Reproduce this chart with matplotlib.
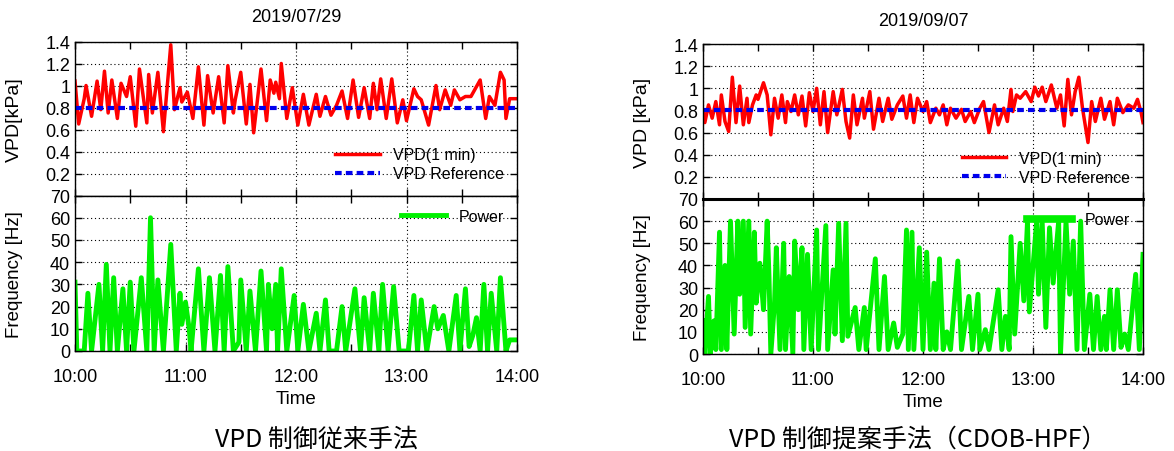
"""VPD control comparison: conventional vs proposed (CDOB-HPF)"""
import matplotlib
matplotlib.use('Agg')
import matplotlib.pyplot as plt
from matplotlib.ticker import MultipleLocator

plt.rcParams['font.family'] = ['Liberation Sans', 'DejaVu Sans']
plt.rcParams['font.size'] = 11

# ---- data (minutes after 10:00) ----
hour_ticks = [0, 60, 120, 180, 240]
hour_labels = ['10:00', '11:00', '12:00', '13:00', '14:00']
vpd_ticks = [0.2, 0.4, 0.6, 0.8, 1.0, 1.2, 1.4]
vpd_labels = ['0.2', '0.4', '0.6', '0.8', '1', '1.2', '1.4']
freq_ticks = [0, 10, 20, 30, 40, 50, 60, 70]
vpd_ref = 0.8

# 2019/07/29 conventional
conv_vpd_t = [0, 2, 5, 6, 9, 12, 14, 16, 18, 20, 23, 25, 28, 30, 33, 35, 39, 40, 42, 45,
              48, 52, 54, 57, 58, 61, 64, 67, 70, 72, 75, 78, 81, 83, 86, 87, 90, 93, 95, 97,
              101, 104, 106, 108, 109, 111, 112, 115, 118, 121, 124, 127, 131, 133, 136, 139,
              142, 145, 148, 151, 154, 157, 160, 162, 164, 166, 169, 172, 175, 178, 180, 184,
              186, 188, 192, 196, 198, 201, 204, 206, 209, 212, 215, 217, 220, 223, 225, 228,
              231, 233, 234, 236, 240]
conv_vpd = [1.04, 0.65, 0.88, 1.00, 0.72, 1.04, 0.78, 1.13, 0.75, 1.05, 0.70, 1.02, 0.90, 1.08,
            0.63, 1.15, 0.66, 1.10, 0.75, 1.12, 0.58, 1.37, 0.78, 0.98, 0.85, 0.94, 0.70, 1.17,
            0.64, 1.09, 0.75, 1.08, 0.66, 1.18, 0.75, 0.87, 1.12, 0.65, 1.01, 0.57, 1.15, 0.68,
            1.05, 0.93, 1.03, 0.88, 1.20, 0.70, 0.98, 0.64, 0.92, 0.64, 0.92, 0.72, 0.90, 0.73,
            0.82, 0.95, 0.70, 1.05, 0.71, 0.98, 0.70, 1.02, 0.78, 1.06, 0.70, 1.06, 0.66, 0.87,
            0.68, 0.97, 0.90, 0.87, 0.64, 1.00, 0.78, 0.96, 0.82, 0.96, 0.87, 0.90, 0.90, 0.96,
            1.05, 0.70, 0.90, 0.82, 1.12, 1.05, 0.70, 0.88, 0.88]

conv_pow_t = [0, 1, 5, 7, 9, 13, 15, 17, 19, 21, 23, 26, 28, 30, 32, 36, 39, 41, 43, 45,
              48, 52, 55, 57, 58, 60, 62, 63, 67, 70, 73, 76, 79, 81, 83, 86, 89, 90, 93, 95,
              98, 101, 104, 105, 107, 109, 110, 112, 115, 119, 121, 124, 127, 131, 133, 136, 138,
              142, 145, 147, 152, 155, 157, 160, 162, 165, 167, 170, 173, 176, 181, 184, 186, 188,
              191, 195, 197, 200, 203, 207, 209, 212, 214, 216, 218, 220, 222, 224, 226, 229, 231,
              234, 236, 240]
conv_pow = [31, 0, 0, 26, 0, 30, 0, 39, 0, 33, 0, 28, 0, 31, 0, 33, 0, 60, 0, 32,
            0, 48, 0, 26, 12, 22, 10, 0, 37, 0, 33, 0, 34, 0, 38, 0, 4, 32, 0, 27,
            0, 36, 0, 30, 10, 30, 0, 37, 0, 25, 0, 21, 0, 17, 0, 23, 0,
            0, 20, 0, 28, 0, 24, 0, 26, 0, 30, 0, 29, 0, 0, 25, 0, 23,
            0, 20, 10, 16, 0, 25, 0, 28, 2, 7, 15, 0, 30, 0, 26, 0, 33,
            0, 5, 5]

# 2019/09/07 proposed (CDOB-HPF)
prop_vpd_t = [0, 1, 3, 5, 7, 9, 10, 12, 14, 16, 18, 20, 22, 24, 25, 27, 29, 30, 33, 35,
              37, 39, 41, 43, 45, 46, 48, 50, 52, 54, 56, 58, 60, 62, 64, 66, 68, 71, 73, 76,
              78, 80, 82, 84, 87, 88, 91, 93, 96, 98, 101, 103, 106, 109, 111, 113, 115, 117,
              120, 122, 124, 127, 129, 131, 133, 135, 138, 141, 143, 146, 148, 151, 153, 156,
              159, 161, 164, 166, 168, 169, 171, 173, 176, 179, 181, 183, 185, 187, 190, 193,
              195, 197, 199, 201, 203, 205, 207, 210, 212, 214, 217, 219, 222, 224, 226, 229,
              232, 235, 237, 239, 240]
prop_vpd = [0.80, 0.69, 0.85, 0.73, 0.88, 0.67, 0.94, 0.70, 0.61, 1.10, 0.69, 1.02, 0.67, 0.91,
            0.69, 0.85, 0.94, 0.90, 1.05, 0.94, 0.58, 0.91, 0.73, 0.94, 0.69, 0.88, 0.79, 0.94,
            0.76, 0.93, 0.66, 0.96, 0.79, 1.00, 0.67, 0.97, 0.60, 0.97, 0.76, 0.99, 0.70, 0.55,
            0.94, 0.67, 0.91, 0.73, 0.97, 0.63, 0.91, 0.70, 0.91, 0.72, 0.85, 0.93, 0.73, 0.94,
            0.69, 0.91, 0.79, 0.88, 0.69, 0.82, 0.76, 0.85, 0.67, 0.82, 0.73, 0.81, 0.70, 0.79,
            0.69, 0.82, 0.88, 0.60, 0.85, 0.67, 0.82, 0.70, 0.99, 0.79, 0.94, 0.91, 0.97, 0.88,
            1.01, 0.93, 1.01, 0.88, 1.03, 0.82, 0.94, 0.66, 1.08, 0.76, 0.97, 1.10, 0.82, 0.51,
            0.88, 0.70, 0.91, 0.72, 0.88, 0.67, 0.91, 0.78, 0.85, 0.82, 0.90, 0.78, 0.69]

prop_pow_t = [0, 1, 3, 4, 6, 7, 9, 10, 12, 13, 15, 17, 19, 20, 22, 23, 25, 26, 28, 29,
              31, 33, 35, 36, 37, 39, 40, 42, 44, 45, 47, 49, 50, 52, 54, 55, 57, 59, 62, 63,
              67, 68, 71, 72, 74, 76, 78, 79, 83, 85, 88, 89, 94, 96, 99, 101, 104, 106, 109,
              111, 112, 114, 115, 118, 120, 122, 124, 126, 127, 129, 131, 133, 135, 139, 141,
              145, 147, 150, 151, 154, 156, 161, 163, 165, 167, 168, 170, 173, 175, 177, 178,
              182, 183, 185, 187, 189, 191, 194, 195, 198, 200, 202, 204, 206, 208, 211, 213,
              215, 217, 219, 220, 222, 224, 226, 228, 230, 232, 236, 238, 240]
prop_pow = [15, 0, 26, 0, 15, 2, 55, 2, 40, 2, 60, 9, 60, 27, 60, 12, 60, 9, 55, 23,
            41, 20, 60, 35, 0, 23, 48, 2, 50, 2, 35, 0, 51, 20, 48, 2, 45, 2, 56, 2,
            58, 2, 38, 9, 59, 6, 59, 8, 21, 2, 21, 2, 43, 2, 35, 2, 14, 3, 9,
            56, 2, 55, 2, 48, 2, 46, 2, 32, 2, 43, 2, 10, 2, 42, 2,
            26, 2, 27, 2, 11, 2, 29, 2, 17, 2, 53, 9, 50, 24, 60, 19,
            60, 27, 60, 12, 57, 32, 60, 0, 60, 27, 51, 2, 60, 2, 27, 2,
            26, 2, 17, 2, 29, 2, 29, 3, 9, 2, 36, 2, 45]

RED = '#ff0000'
BLUE = '#0000ee'
GREEN = '#00f000'
GRID_LS = (0, (1, 2.5))

fig = plt.figure(figsize=(11.74, 4.52), dpi=100)
W, H = 1174.0, 452.0


def style(ax):
    ax.set_xlim(0, 240)
    ax.set_xticks(hour_ticks)
    ax.xaxis.set_minor_locator(MultipleLocator(30))
    ax.tick_params(which='both', direction='in', top=True, right=True,
                   length=5, width=1, labelsize=13, colors='black')
    ax.tick_params(axis='x', pad=12)
    ax.grid(True, which='major', color='black', linestyle=GRID_LS, linewidth=0.8)
    ax.set_axisbelow(True)
    for s in ax.spines.values():
        s.set_linewidth(1.0)


panels = [
    dict(x0=75, x1=517, top=42.5, mid=196.5, bot=352, title='2019/07/29', tx=296, ty=18,
         vlab='VPD[kPa]', vt=conv_vpd_t, v=conv_vpd, pt=conv_pow_t, p=conv_pow,
         caption='VPD 制御従来手法', cx=316, thick=1.0, plw=3.5),
    dict(x0=703, x1=1143, top=45, mid=200, bot=355, title='2019/09/07', tx=923, ty=22,
         vlab='VPD [kPa]', vt=prop_vpd_t, v=prop_vpd, pt=prop_pow_t, p=prop_pow,
         caption='VPD 制御提案手法（CDOB-HPF）', cx=918, thick=2.2, plw=5.5),
]

for pn in panels:
    left = pn['x0'] / W
    width = (pn['x1'] - pn['x0']) / W
    ax1 = fig.add_axes([left, 1 - pn['mid'] / H, width, (pn['mid'] - pn['top']) / H])
    ax2 = fig.add_axes([left, 1 - pn['bot'] / H, width, (pn['bot'] - pn['mid']) / H])

    # VPD panel
    style(ax1)
    ax1.plot(pn['vt'], pn['v'], color=RED, linewidth=2.5, label='VPD(1 min)')
    ax1.axhline(vpd_ref, color=BLUE, linewidth=3.0, linestyle=(0, (1.6, 1.0)),
                label='VPD Reference')
    ax1.set_ylim(0, 1.4)
    ax1.set_yticks(vpd_ticks)
    ax1.set_yticklabels(vpd_labels)
    ax1.tick_params(labelbottom=False)
    ax1.set_ylabel(pn['vlab'], fontsize=14)
    ax1.yaxis.set_label_coords(-0.118, 0.5)
    ax1.legend(loc='lower right', bbox_to_anchor=(0.985, 0.05), frameon=False,
               fontsize=11.5, handlelength=2.8, labelspacing=0.25, borderaxespad=0)

    # Frequency panel
    style(ax2)
    ax2.plot(pn['pt'], pn['p'], color=GREEN, linewidth=3.5, label='Power')
    ax2.set_ylim(0, 70)
    ax2.set_yticks(freq_ticks)
    ax2.set_xticklabels(hour_labels)
    ax2.set_ylabel('Frequency [Hz]', fontsize=13.5)
    ax2.yaxis.set_label_coords(-0.118, 0.5)
    ax2.set_xlabel('Time', fontsize=13.5, labelpad=4)
    ax2.spines['top'].set_linewidth(pn['thick'])
    leg = ax2.legend(loc='upper right', bbox_to_anchor=(0.985, 0.955), frameon=False,
                     fontsize=11.5, handlelength=2.8, borderaxespad=0)
    leg.get_lines()[0].set_linewidth(pn['plw'])

    fig.text(pn['tx'] / W, 1 - pn['ty'] / H, pn['title'], ha='center', va='center',
             fontsize=13)
    fig.text(pn['cx'] / W, 1 - 440 / H, pn['caption'], ha='center', va='center',
             fontsize=18, family=['Noto Sans CJK JP', 'DejaVu Sans'])

plt.savefig('out.png', dpi=100)
plt.close()
